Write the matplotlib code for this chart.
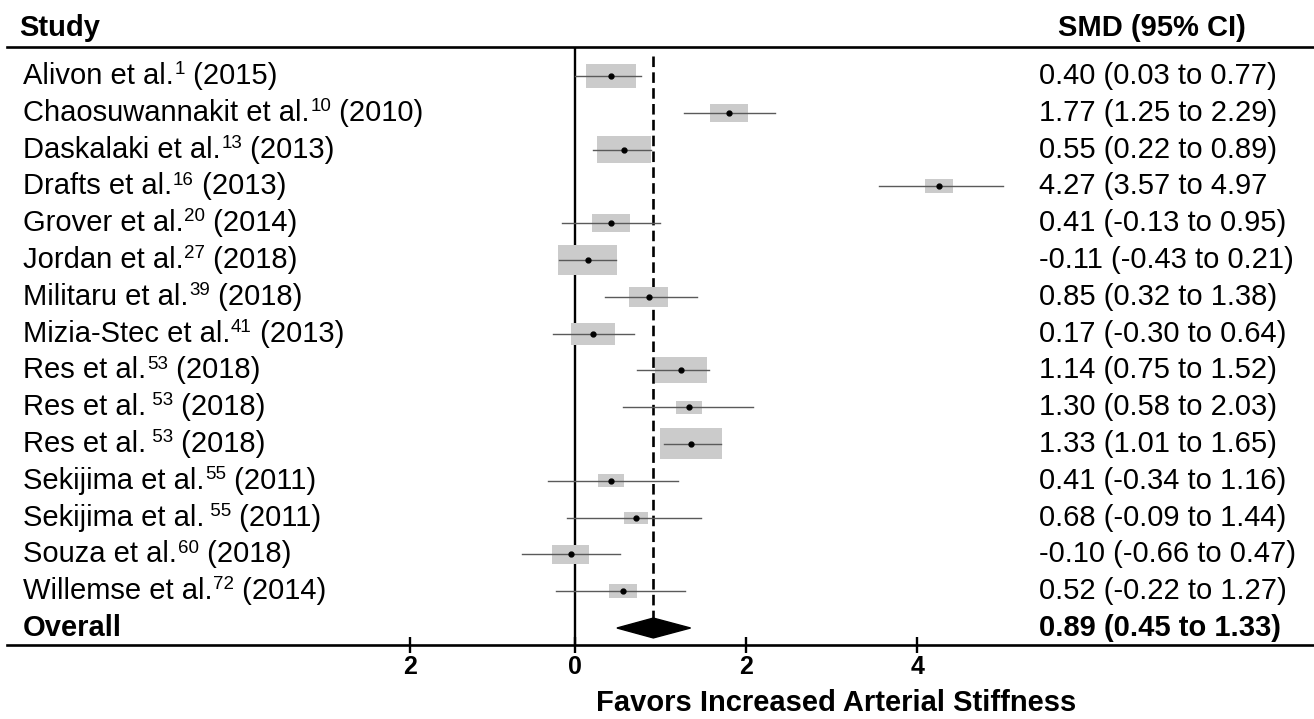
import matplotlib
matplotlib.use("Agg")
import matplotlib.pyplot as plt
from matplotlib.patches import Rectangle, Polygon
from matplotlib.transforms import blended_transform_factory

plt.rcParams["font.family"] = ["Liberation Sans", "DejaVu Sans"]

# study labels: name, superscript ref, year
authors = ["Alivon et al.", "Chaosuwannakit et al.", "Daskalaki et al.", "Drafts et al.",
           "Grover et al.", "Jordan et al.", "Militaru et al.", "Mizia-Stec et al.",
           "Res et al.", "Res et al.", "Res et al.", "Sekijima et al.",
           "Sekijima et al.", "Souza et al.", "Willemse et al."]
refs = ["1", "10", "13", "16", "20", "27", "39", "41", "53", " 53", " 53", "55", " 55", "60", "72"]
years = ["2015", "2010", "2013", "2013", "2014", "2018", "2018", "2013",
         "2018", "2018", "2018", "2011", "2011", "2018", "2014"]

# table column as printed
smd_text = ["0.40 (0.03 to 0.77)", "1.77 (1.25 to 2.29)", "0.55 (0.22 to 0.89)",
            "4.27 (3.57 to 4.97", "0.41 (-0.13 to 0.95)", "-0.11 (-0.43 to 0.21)",
            "0.85 (0.32 to 1.38)", "0.17 (-0.30 to 0.64)", "1.14 (0.75 to 1.52)",
            "1.30 (0.58 to 2.03)", "1.33 (1.01 to 1.65)", "0.41 (-0.34 to 1.16)",
            "0.68 (-0.09 to 1.44)", "-0.10 (-0.66 to 0.47)", "0.52 (-0.22 to 1.27)"]
overall_text = "0.89 (0.45 to 1.33)"

# marks as drawn in the figure
est = [0.42, 1.80, 0.57, 4.25, 0.42, 0.15, 0.86, 0.21, 1.24, 1.33, 1.36, 0.42, 0.71, -0.05, 0.56]
ci_lo = [0.0, 1.27, 0.21, 3.55, -0.15, -0.19, 0.35, -0.26, 0.73, 0.56, 1.04, -0.31, -0.09, -0.62, -0.22]
ci_hi = [0.77, 2.34, 0.89, 5.00, 0.99, 0.48, 1.42, 0.69, 1.56, 2.08, 1.71, 1.20, 1.47, 0.52, 1.29]
weight = [8.0, 6.0, 8.7, 4.5, 6.0, 9.5, 6.4, 7.1, 8.4, 4.2, 10.0, 4.1, 3.9, 5.9, 4.6]
overall_est, overall_lo, overall_hi = 0.915, 0.49, 1.35

tick_pos = [-1.93, 0, 2, 4]
tick_labels = ["2", "0", "2", "4"]

W, H = 1314, 719
px_per_unit = 85.6
row_px = 36.8
x0_px, row0_px = 575, 76

fig = plt.figure(figsize=(W / 100, H / 100), dpi=100)
left_px, right_px, top_px, bot_px = 7, 1313, 46.7, 645
ax = fig.add_axes([left_px / W, 1 - bot_px / H, (right_px - left_px) / W, (bot_px - top_px) / H])
ax.set_xlim((left_px - x0_px) / px_per_unit, (right_px - x0_px) / px_per_unit)
ax.set_ylim((bot_px - row0_px) / row_px, (top_px - row0_px) / row_px)

n = len(est)
ax.axvline(0, color="black", lw=1.7, zorder=1)
ax.plot([overall_est, overall_est], [-0.54, n - 0.27], color="black", lw=1.9,
        dashes=(4, 2), zorder=1)

for i in range(n):
    h = weight[i] * 3.1 / row_px
    w = weight[i] * 6.2 / px_per_unit
    ax.add_patch(Rectangle((est[i] - w / 2, i - h / 2), w, h, facecolor="#cbcbcb",
                           edgecolor="none", zorder=2))
    ax.plot([ci_lo[i], ci_hi[i]], [i, i], color="#5a5a5a", lw=1.0, zorder=3)
    ax.plot(est[i], i, "o", color="black", ms=3.5, zorder=4)

ax.add_patch(Polygon([(overall_lo, n), (overall_est, n - 0.27), (overall_hi, n),
                      (overall_est, n + 0.27)], closed=True, color="black", zorder=4))

for s in ["left", "right"]:
    ax.spines[s].set_visible(False)
ax.spines["top"].set_linewidth(1.9)
ax.spines["bottom"].set_linewidth(1.9)
ax.set_yticks([])
ax.set_xticks(tick_pos)
ax.set_xticklabels(tick_labels, fontweight="bold", fontsize=18)
ax.tick_params(axis="x", direction="inout", length=11, width=1.7, pad=2)

tr = blended_transform_factory(fig.transFigure, ax.transData)
fs = 21
for i in range(n):
    t1 = ax.text(23 / W, i, authors[i], transform=tr, fontsize=fs, va="center", ha="left")
    t2 = ax.annotate(refs[i], xy=(1, i), xycoords=(t1, tr), xytext=(0.5, 4.5),
                     textcoords="offset points", fontsize=13.5, va="center", ha="left")
    ax.annotate(" (" + years[i] + ")", xy=(1, i), xycoords=(t2, tr), fontsize=fs,
                va="center", ha="left")
    ax.text(1039 / W, i, smd_text[i], transform=tr, fontsize=fs, va="center", ha="left")
ax.text(23 / W, n, "Overall", transform=tr, fontsize=fs, fontweight="bold", va="center")
ax.text(1039 / W, n, overall_text, transform=tr, fontsize=fs, fontweight="bold", va="center")

fig.text(19 / W, 1 - 28 / H, "Study", fontsize=fs, fontweight="bold", va="center")
fig.text(1058 / W, 1 - 28 / H, "SMD (95% CI)", fontsize=fs, fontweight="bold", va="center")
fig.text(836 / W, 1 - 703 / H, "Favors Increased Arterial Stiffness", fontsize=21,
         fontweight="bold", ha="center", va="center")

fig.savefig("out.png", dpi=100)
